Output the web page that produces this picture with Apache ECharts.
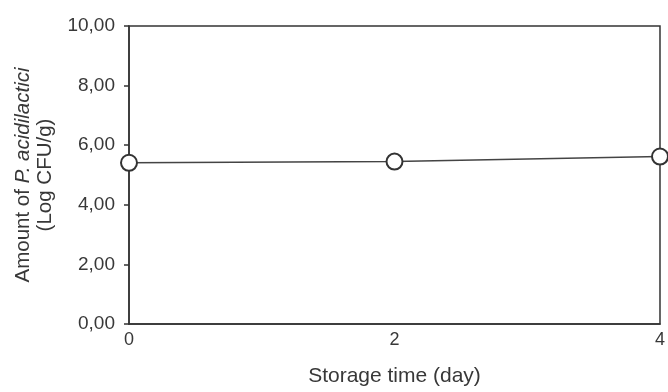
<!DOCTYPE html>
<html>
<head>
<meta charset="utf-8">
<script src="https://cdn.jsdelivr.net/npm/echarts@6/dist/echarts.min.js"></script>
<style>html,body{margin:0;padding:0;background:#fff;overflow:hidden;}#c{width:668px;height:392px;}</style>
</head>
<body>
<div id="c"></div>
<script>
const days = [0, 2, 4];
const amount = [5.41, 5.45, 5.62];
const yTicks = [0, 2, 4, 6, 8, 10];
const xTitle = 'Storage time (day)';
const yTitleA = 'Amount of ';
const yTitleB = 'P. acidilactici';
const yTitleC = '(Log CFU/g)';

const chart = echarts.init(document.getElementById('c'), null, { width: 668, height: 392 });
const txt = '#383838';
const font = 'Liberation Sans, Arial, sans-serif';
chart.setOption({
  animation: false,
  grid: { left: 129, right: 2, top: 26, bottom: 65, show: true, borderColor: '#333', borderWidth: 1.5, backgroundColor: 'transparent' },
  xAxis: {
    type: 'value', min: 0, max: 4, interval: 2,
    name: xTitle, nameLocation: 'middle', nameGap: 42,
    nameTextStyle: { fontFamily: font, fontSize: 21, color: txt },
    axisLine: { show: true, lineStyle: { color: '#333', width: 1.5 } },
    axisTick: { show: false },
    splitLine: { show: false },
    axisLabel: { fontFamily: font, fontSize: 18, color: txt, margin: 7 }
  },
  yAxis: {
    type: 'value', min: yTicks[0], max: yTicks[yTicks.length - 1], interval: 2,
    name: '{n|' + yTitleA + '}{i|' + yTitleB + '}\n{n|' + yTitleC + '}',
    nameLocation: 'middle', nameGap: 71,
    nameTextStyle: {
      fontFamily: font, fontSize: 20.5, color: txt, lineHeight: 22,
      rich: {
        n: { fontFamily: font, fontSize: 20.5, color: txt, lineHeight: 22 },
        i: { fontFamily: font, fontSize: 20.5, color: txt, fontStyle: 'italic', lineHeight: 22 }
      }
    },
    axisLine: { show: true, lineStyle: { color: '#333', width: 1.5 } },
    axisTick: { show: true, inside: false, length: 5, lineStyle: { color: '#333', width: 1.5 } },
    splitLine: { show: false },
    axisLabel: { fontFamily: font, fontSize: 19, color: txt, margin: 14,
      formatter: v => v.toFixed(2).replace('.', ',') }
  },
  series: [{
    type: 'line',
    data: days.map((d, i) => [d, amount[i]]),
    clip: false,
    symbol: 'circle', symbolSize: 16,
    lineStyle: { color: '#444', width: 1.5 },
    itemStyle: { color: '#fff', borderColor: '#333', borderWidth: 2 }
  }]
});
</script>
</body>
</html>
